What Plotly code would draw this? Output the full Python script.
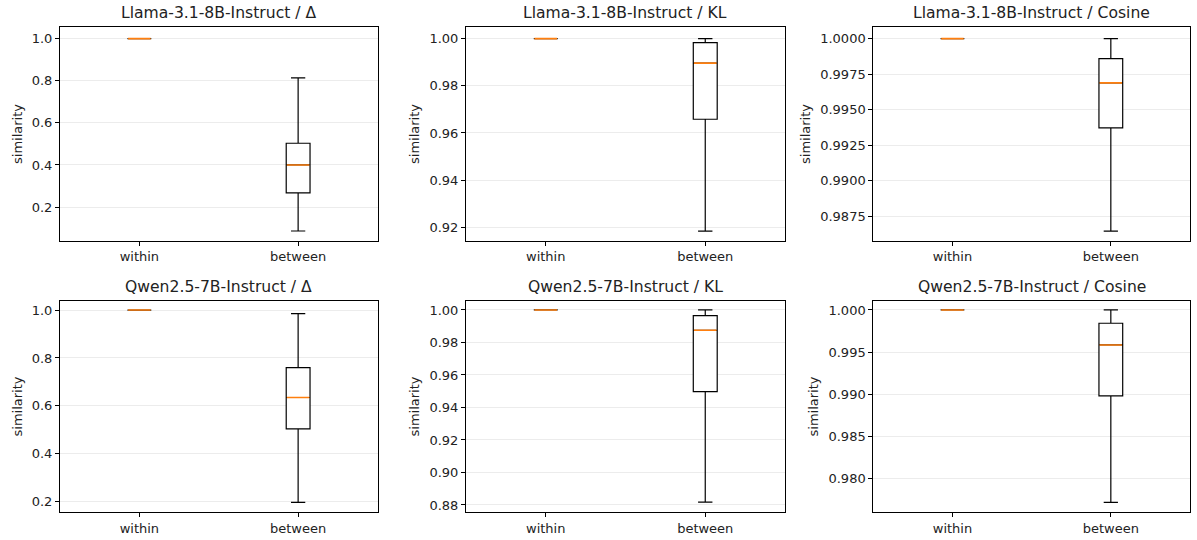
import plotly.graph_objects as go

# ---- data ----
categories = ["within", "between"]
panel_titles = [
    "Llama-3.1-8B-Instruct / Δ", "Llama-3.1-8B-Instruct / KL", "Llama-3.1-8B-Instruct / Cosine",
    "Qwen2.5-7B-Instruct / Δ", "Qwen2.5-7B-Instruct / KL", "Qwen2.5-7B-Instruct / Cosine",
]
# each list: [within, between]
q1_vals = [
    [1.0, 0.267], [1.0, 0.9658], [1.0, 0.99371],
    [1.0, 0.504], [1.0, 0.9497], [1.0, 0.9898],
]
median_vals = [
    [1.0, 0.400], [1.0, 0.9896], [1.0, 0.99688],
    [1.0, 0.635], [1.0, 0.9875], [1.0, 0.99584],
]
q3_vals = [
    [1.0, 0.503], [1.0, 0.9983], [1.0, 0.99859],
    [1.0, 0.760], [1.0, 0.9965], [1.0, 0.99842],
]
low_vals = [
    [1.0, 0.086], [1.0, 0.9184], [1.0, 0.98644],
    [1.0, 0.197], [1.0, 0.8817], [1.0, 0.97715],
]
high_vals = [
    [1.0, 0.814], [1.0, 1.0], [1.0, 1.0],
    [1.0, 0.985], [1.0, 1.0], [1.0, 1.0],
]
y_ranges = [
    [0.040, 1.054], [0.9143, 1.0048], [0.98576, 1.0008],
    [0.156, 1.039], [0.8755, 1.0057], [0.97596, 1.0011],
]
y_dticks = [0.2, 0.02, 0.0025, 0.2, 0.02, 0.005]
y_formats = [".1f", ".2f", ".4f", ".1f", ".2f", ".3f"]

# ---- layout geometry ----
W, H = 1197, 540
col_px = [(60, 377.5), (466, 785), (873.3, 1190)]
row_px = [(27.3, 240.7), (300.7, 512.3)]
positions = [1, 2]
box_w = 0.15

fig = go.Figure()
annotations = []
for i in range(6):
    r, c = divmod(i, 3)
    ax = "" if i == 0 else str(i + 1)
    xref, yref = "x" + ax, "y" + ax
    fig.add_trace(go.Box(
        x=positions, q1=q1_vals[i], median=median_vals[i], q3=q3_vals[i],
        lowerfence=low_vals[i], upperfence=high_vals[i],
        width=box_w, fillcolor="white", line=dict(color="black", width=1.2),
        whiskerwidth=0.6, boxpoints=False, showlegend=False,
        xaxis=xref, yaxis=yref, hoverinfo="skip",
    ))
    mx, my = [], []
    for p, m in zip(positions, median_vals[i]):
        mx += [p - box_w / 2 + 0.004, p + box_w / 2 - 0.004, None]
        my += [m, m, None]
    fig.add_trace(go.Scatter(
        x=mx, y=my, mode="lines", line=dict(color="#ff7f0e", width=1.6),
        showlegend=False, xaxis=xref, yaxis=yref, hoverinfo="skip",
    ))
    x0, x1 = col_px[c]
    t0, t1 = row_px[r]
    xd = [x0 / W, x1 / W]
    yd = [1 - t1 / H, 1 - t0 / H]
    common = dict(showline=True, mirror=True, linecolor="black", linewidth=1,
                  ticks="outside", ticklen=4, tickwidth=1, tickcolor="black",
                  zeroline=False, tickfont=dict(family="DejaVu Sans", size=13, color="#222"))
    fig.update_layout(**{
        "xaxis" + ax: dict(domain=xd, anchor=yref, range=[0.5, 2.5], tickvals=positions,
                           ticktext=categories, showgrid=False, **common),
        "yaxis" + ax: dict(domain=yd, anchor=xref, range=y_ranges[i], dtick=y_dticks[i],
                           tick0=0, tickformat=y_formats[i], showgrid=True,
                           gridcolor="#ececec", gridwidth=1,
                           title=dict(text="similarity", font=dict(family="DejaVu Sans", size=13, color="#222"),
                                      standoff=6),
                           **common),
    })
    annotations.append(dict(
        text=panel_titles[i], x=(xd[0] + xd[1]) / 2, y=yd[1], xref="paper", yref="paper",
        xanchor="center", yanchor="bottom", yshift=3, showarrow=False,
        font=dict(family="DejaVu Sans", size=15.6, color="#222"),
    ))

fig.update_layout(
    width=W, height=H, margin=dict(l=0, r=0, t=0, b=0),
    paper_bgcolor="white", plot_bgcolor="white", annotations=annotations,
)
fig.write_html("out.html")
